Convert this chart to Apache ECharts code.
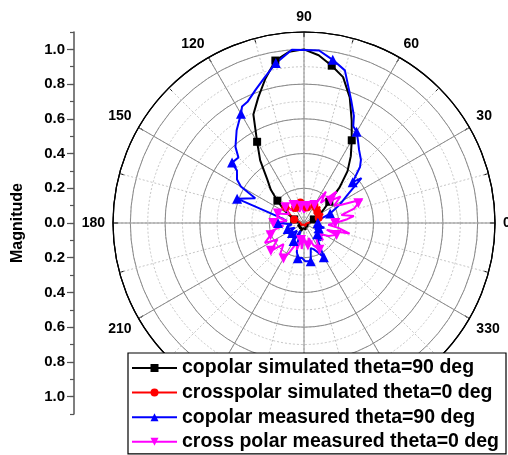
<!DOCTYPE html>
<html>
<head>
<meta charset="utf-8">
<script src="https://cdn.jsdelivr.net/npm/echarts@6/dist/echarts.min.js"></script>
<style>
  html, body { margin: 0; padding: 0; background: #fff; }
  #chart { width: 508px; height: 455px; }
</style>
</head>
<body>
<div id="chart"></div>
<script>
// Radiation pattern cuts: angle in degrees, normalised magnitude.
const seriesNames = [
  'copolar simulated theta=90 deg',
  'crosspolar simulated theta=0 deg',
  'copolar measured theta=90 deg',
  'cross polar measured theta=0 deg'
];

const copolSimAngles = [
  0, 5, 10, 15, 20, 25, 30, 35, 40, 45, 50, 55, 60, 65, 70, 75, 80, 85, 90,
  95, 100, 105, 110, 115, 120, 125, 130, 135, 140, 145, 150, 155, 160, 165, 170, 175, 180,
  185, 190, 195, 200, 205, 210, 215, 220, 225, 230, 235, 240, 245, 250, 255, 260, 265, 270,
  275, 280, 285, 290, 295, 300, 305, 310, 315, 320, 325, 330, 335, 340, 345, 350, 355, 360
];
const copolSimValues = [
  0.03, 0.03, 0.04, 0.05, 0.06, 0.08, 0.11, 0.14, 0.19, 0.29, 0.39, 0.47, 0.55, 0.65, 0.77, 0.87, 0.92, 0.97, 1.00,
  0.99, 0.95, 0.86, 0.77, 0.69, 0.54, 0.44, 0.33, 0.27, 0.20, 0.15, 0.11, 0.08, 0.06, 0.05, 0.04, 0.03, 0.03,
  0.02, 0.03, 0.02, 0.03, 0.04, 0.03, 0.02, 0.03, 0.04, 0.05, 0.04, 0.03, 0.04, 0.05, 0.04, 0.03, 0.02, 0.03,
  0.04, 0.03, 0.04, 0.03, 0.02, 0.03, 0.03, 0.02, 0.03, 0.03, 0.02, 0.03, 0.02, 0.03, 0.03, 0.02, 0.03, 0.03
];

const crossSimAngles = copolSimAngles;
const crossSimValues = [
  0.02, 0.03, 0.05, 0.07, 0.09, 0.12, 0.11, 0.08, 0.10, 0.13, 0.11, 0.09, 0.12, 0.10, 0.08, 0.11, 0.09, 0.12, 0.13,
  0.10, 0.12, 0.09, 0.11, 0.13, 0.10, 0.12, 0.09, 0.12, 0.14, 0.11, 0.09, 0.07, 0.06, 0.04, 0.03, 0.02, 0.02,
  0.01, 0.02, 0.01, 0.02, 0.02, 0.01, 0.02, 0.01, 0.02, 0.02, 0.01, 0.02, 0.01, 0.02, 0.02, 0.01, 0.02, 0.01,
  0.02, 0.01, 0.02, 0.02, 0.01, 0.02, 0.01, 0.02, 0.01, 0.02, 0.02, 0.01, 0.02, 0.01, 0.02, 0.01, 0.02, 0.02
];

const copolMeasAngles = [
  0, 5, 10, 15, 20, 27, 33, 38, 40, 45, 48, 53, 57, 60, 63, 65, 69, 75, 80, 85, 90, 94,
  100, 105, 110, 115, 118, 120, 126, 132, 135, 140, 142, 147, 150, 153, 160, 163, 168, 173,
  180, 186, 193, 200, 207, 213, 220, 228, 234, 240, 246, 252, 256, 260, 266, 272, 280, 285,
  290, 294, 300, 304, 310, 315, 320, 327, 334, 340, 347, 353, 360
];
const copolMeasValues = [
  0.08, 0.07, 0.09, 0.105, 0.16, 0.23, 0.30, 0.42, 0.366, 0.456, 0.49, 0.527, 0.57, 0.606, 0.625, 0.68, 0.758, 0.91, 0.954, 0.997, 0.997, 1.0,
  0.935, 0.87, 0.816, 0.77, 0.76, 0.726, 0.66, 0.59, 0.534, 0.541, 0.49, 0.46, 0.42, 0.315, 0.41, 0.22, 0.13, 0.10,
  0.15, 0.07, 0.10, 0.10, 0.06, 0.11, 0.09, 0.06, 0.10, 0.12, 0.05, 0.12, 0.17, 0.206, 0.20, 0.22, 0.224, 0.15,
  0.16, 0.18, 0.228, 0.17, 0.12, 0.14, 0.10, 0.13, 0.07, 0.09, 0.12, 0.07, 0.08
];

const crossMeasAngles = [
  0, 5, 8, 12, 16, 20, 22, 26, 30, 36, 40, 44, 50, 55, 60, 65, 70, 75, 80, 90, 100, 110,
  120, 130, 140, 150, 160, 167, 173, 180, 188, 194, 200, 207, 212, 220, 226, 232, 240, 244,
  250, 255, 260, 265, 270, 275, 280, 287, 293, 300, 305, 312, 318, 325, 332, 340, 343, 347,
  352, 356, 360
];
const crossMeasValues = [
  0.18, 0.25, 0.29, 0.22, 0.30, 0.333, 0.36, 0.24, 0.20, 0.26, 0.20, 0.26, 0.15, 0.22, 0.12, 0.14, 0.08, 0.11, 0.10, 0.06, 0.10, 0.07,
  0.12, 0.09, 0.14, 0.10, 0.16, 0.16, 0.10, 0.177, 0.12, 0.20, 0.205, 0.253, 0.18, 0.249, 0.17, 0.22, 0.236, 0.184,
  0.12, 0.16, 0.10, 0.15, 0.08, 0.12, 0.131, 0.09, 0.14, 0.178, 0.132, 0.10, 0.148, 0.11, 0.16, 0.20, 0.137, 0.27,
  0.20, 0.14, 0.18
];

// Magnitude scale tick labels (mirrored about the centre line)
const magnitudeTicks = [1.0, 0.8, 0.6, 0.4, 0.2, 0.0, 0.2, 0.4, 0.6, 0.8, 1.0];
const angleLabelsHidden = [240, 270, 300];

const FONT = '"Liberation Sans", Arial, Helvetica, sans-serif';
const CX = 304, CY = 223, R = 191, RMAX = 1.1;

function pairs(angles, values) {
  return angles.map((a, i) => [values[i], a]);
}
// markers every 20 degrees along each trace; traces that collapse
// into the origin skip markers there so the centre stays readable
function markerSize(size, minRadius) {
  return function (val) {
    if (val[0] < minRadius) return 0;
    return Math.round(val[1]) % 20 === 0 ? size : 0;
  };
}

const chart = echarts.init(document.getElementById('chart'), null, { renderer: 'canvas' });

const gridSolid = '#8a8a8a';
const gridDotted = '#c6c6c6';

const option = {
  animation: false,
  backgroundColor: '#ffffff',
  polar: [
    { center: [CX, CY], radius: R },
    { center: [CX, CY], radius: R }
  ],
  angleAxis: [
    {
      polarIndex: 0, type: 'value', min: 0, max: 360, interval: 15,
      startAngle: 0, clockwise: false,
      axisLine: { show: true, lineStyle: { color: '#000', width: 1.2 } },
      axisTick: { show: true, inside: true, length: 5, lineStyle: { color: '#000', width: 1 } },
      axisLabel: { show: false },
      splitLine: { show: true, lineStyle: { color: gridDotted, width: 1, type: [2, 2] } }
    },
    {
      polarIndex: 1, type: 'value', min: 0, max: 360, interval: 30,
      startAngle: 0, clockwise: false,
      axisLine: { show: true, lineStyle: { color: '#000', width: 1.2 } },
      axisTick: { show: true, inside: true, length: 5, lineStyle: { color: '#000', width: 1 } },
      axisLabel: {
        show: true, margin: 8, fontSize: 14, fontWeight: 'bold', color: '#000', fontFamily: FONT,
        formatter: v => (angleLabelsHidden.indexOf(v) >= 0 ? '' : String(v))
      },
      splitLine: { show: true, lineStyle: { color: gridSolid, width: 1 } }
    }
  ],
  radiusAxis: [
    {
      polarIndex: 0, type: 'value', min: 0, max: RMAX, interval: 0.1,
      axisLine: { show: false }, axisTick: { show: false }, axisLabel: { show: false },
      splitLine: { show: true, lineStyle: { color: gridDotted, width: 1, type: [2, 2] } }
    },
    {
      polarIndex: 1, type: 'value', min: 0, max: RMAX, interval: 0.2,
      axisLine: { show: false }, axisTick: { show: false }, axisLabel: { show: false },
      splitLine: { show: true, lineStyle: { color: gridSolid, width: 1 } }
    }
  ],
  grid: [
    { left: 74, top: 32, width: 1, height: 382 },
    { left: 74, top: 49.5, width: 1, height: 347 }
  ],
  xAxis: [
    { gridIndex: 0, type: 'value', show: false },
    { gridIndex: 1, type: 'value', show: false }
  ],
  yAxis: [
    {
      gridIndex: 0, type: 'value', min: -RMAX, max: RMAX, interval: 0.1, position: 'left',
      axisLine: { show: true, lineStyle: { color: '#555', width: 1.5 } },
      axisTick: { show: true, length: 4, lineStyle: { color: '#555', width: 1.2 } },
      axisLabel: { show: false },
      splitLine: { show: false },
      name: 'Magnitude', nameLocation: 'middle', nameRotate: 90, nameGap: 48,
      nameTextStyle: { fontSize: 16, fontWeight: 'bold', color: '#000', fontFamily: FONT }
    },
    {
      gridIndex: 1, type: 'value', min: -1.0, max: 1.0, interval: 0.2, position: 'left',
      axisLine: { show: false },
      axisTick: { show: true, length: 7, lineStyle: { color: '#555', width: 1.2 } },
      axisLabel: {
        show: true, margin: 9, fontSize: 15, fontWeight: 'bold', color: '#000', fontFamily: FONT,
        formatter: (v, i) => magnitudeTicks[magnitudeTicks.length - 1 - i] !== undefined
          ? magnitudeTicks[magnitudeTicks.length - 1 - i].toFixed(1)
          : Math.abs(v).toFixed(1)
      },
      splitLine: { show: false }
    }
  ],
  legend: {
    orient: 'vertical', left: 128, top: 353, width: 420, height: 130,
    padding: [5, 7, 2, 3], itemGap: 4.6, itemWidth: 45, itemHeight: 10,
    backgroundColor: '#fff', borderColor: '#000', borderWidth: 1.2, borderRadius: 0,
    textStyle: { fontSize: 19.5, fontWeight: 'bold', color: '#000', fontFamily: FONT, lineHeight: 19 },
    data: seriesNames
  },
  series: [
    {
      name: seriesNames[0], type: 'line', coordinateSystem: 'polar', polarIndex: 1,
      data: pairs(copolSimAngles, copolSimValues),
      symbol: 'rect', symbolSize: markerSize(8, 0.05), showSymbol: true,
      lineStyle: { color: '#000', width: 2 }, itemStyle: { color: '#000' }
    },
    {
      name: seriesNames[1], type: 'line', coordinateSystem: 'polar', polarIndex: 1,
      data: pairs(crossSimAngles, crossSimValues),
      symbol: 'circle', symbolSize: markerSize(8, 0.05), showSymbol: true,
      lineStyle: { color: '#ff0000', width: 2 }, itemStyle: { color: '#ff0000' }
    },
    {
      name: seriesNames[2], type: 'line', coordinateSystem: 'polar', polarIndex: 1,
      data: pairs(copolMeasAngles, copolMeasValues),
      symbol: 'triangle', symbolSize: markerSize(10, 0), showSymbol: true,
      lineStyle: { color: '#0000ff', width: 2 }, itemStyle: { color: '#0000ff' }
    },
    {
      name: seriesNames[3], type: 'line', coordinateSystem: 'polar', polarIndex: 1,
      data: pairs(crossMeasAngles, crossMeasValues),
      symbol: 'triangle', symbolRotate: 180, symbolSize: markerSize(10, 0), showSymbol: true,
      lineStyle: { color: '#ff00ff', width: 2 }, itemStyle: { color: '#ff00ff' }
    }
  ]
};

chart.setOption(option);
</script>
</body>
</html>
